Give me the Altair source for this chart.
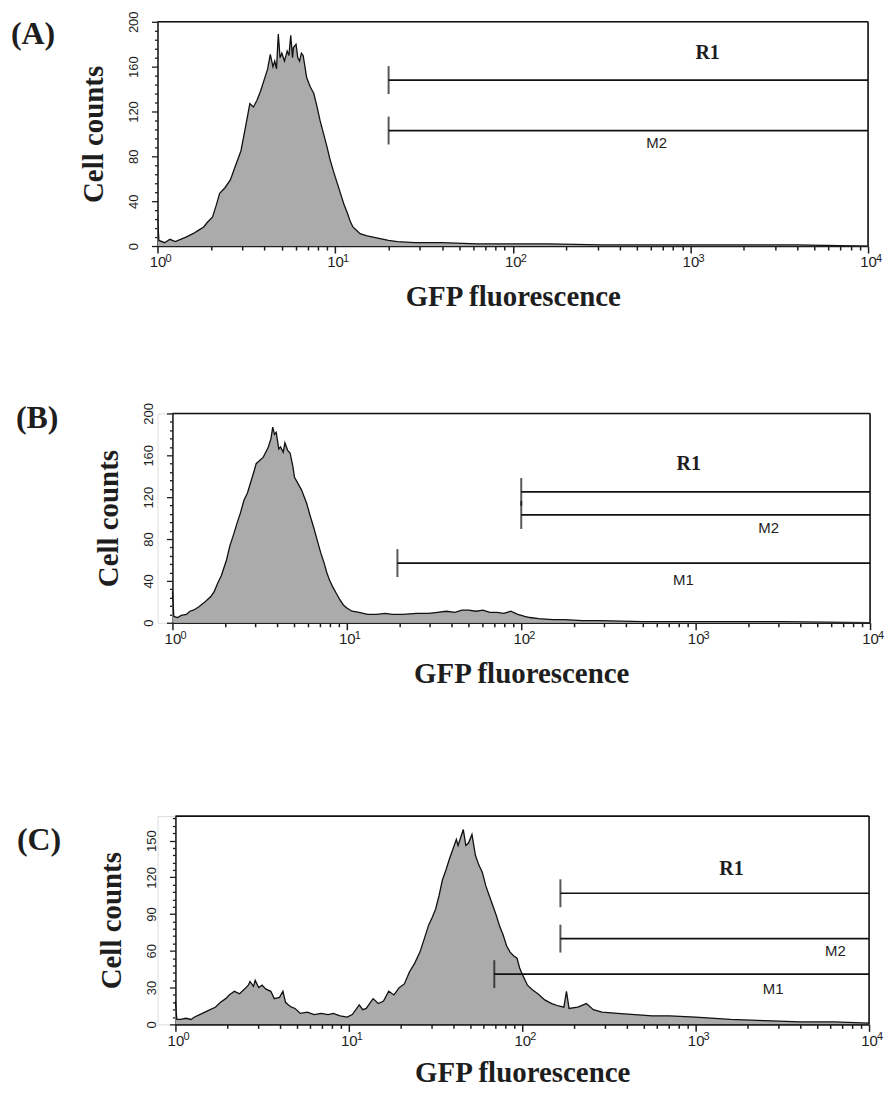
import altair as alt
import pandas as pd

# ---------------- data ----------------
# x positions are given as log10(GFP fluorescence), counts are cell counts
a_log = [0.0, 0.008, 0.04, 0.07, 0.10, 0.13, 0.16, 0.20, 0.23, 0.26, 0.28, 0.31, 0.33, 0.35, 0.38,
         0.41, 0.44, 0.47, 0.50, 0.52, 0.54, 0.56, 0.58, 0.60, 0.62, 0.635, 0.65, 0.66, 0.67, 0.68,
         0.69, 0.70, 0.715, 0.73, 0.74, 0.75, 0.76, 0.765, 0.78, 0.79, 0.80, 0.81, 0.82, 0.83, 0.84,
         0.86, 0.88, 0.90, 0.915, 0.935, 0.955, 0.97, 0.99, 1.01, 1.03, 1.05, 1.07, 1.085, 1.10, 1.12,
         1.14, 1.18, 1.24, 1.30, 1.35, 1.45, 1.6, 1.8, 2.0, 2.2, 2.5, 2.8, 3.2, 3.6, 4.0]
a_cnt = [26, 5, 3, 6, 4, 6, 8, 11, 14, 17, 21, 26, 36, 47, 52,
         59, 72, 85, 110, 127, 124, 130, 138, 148, 158, 171, 160, 165, 158, 189,
         168, 172, 165, 174, 170, 188, 168, 177, 180, 168, 165, 172, 170, 160, 150,
         142, 136, 123, 112, 100, 88, 78, 67, 57, 47, 37, 29, 22, 17, 14,
         11, 9, 7, 5, 4, 3, 3, 2, 2, 2, 1, 1, 1, 1, 0]

b_log = [0.0, 0.008, 0.03, 0.05, 0.08, 0.10, 0.12, 0.15, 0.18, 0.20, 0.22, 0.24, 0.26, 0.28, 0.29,
         0.31, 0.33, 0.35, 0.37, 0.39, 0.41, 0.43, 0.45, 0.47, 0.48, 0.50, 0.52, 0.535, 0.55, 0.565,
         0.575, 0.585, 0.595, 0.61, 0.62, 0.635, 0.645, 0.66, 0.675, 0.69, 0.70, 0.72, 0.74, 0.77, 0.79,
         0.81, 0.83, 0.85, 0.87, 0.885, 0.90, 0.92, 0.94, 0.96, 0.98, 1.0, 1.03, 1.07, 1.12, 1.17,
         1.22, 1.26, 1.32, 1.40, 1.47, 1.52, 1.57, 1.62, 1.66, 1.70, 1.74, 1.78, 1.82, 1.86, 1.90,
         1.94, 1.98, 2.02, 2.05, 2.10, 2.18, 2.25, 2.35, 2.45, 2.7, 3.0, 3.5, 4.0]
b_cnt = [30, 6, 5, 7, 8, 11, 12, 15, 19, 22, 25, 30, 38, 45, 50,
         60, 74, 84, 95, 105, 117, 124, 135, 146, 152, 155, 158, 163, 168, 176,
         187, 180, 182, 166, 168, 163, 172, 165, 162, 150, 139, 133, 127, 114, 102,
         91, 79, 67, 57, 48, 41, 34, 28, 22, 17, 14, 11, 10, 8, 8,
         9, 8, 8, 9, 9, 10, 11, 10, 12, 12, 11, 12, 10, 10, 9,
         11, 8, 6, 5, 4, 3, 3, 2, 2, 1, 1, 1, 0]

c_log = [0.0, 0.008, 0.03, 0.06, 0.09, 0.11, 0.14, 0.17, 0.20, 0.23, 0.26, 0.29, 0.31, 0.34, 0.37,
         0.40, 0.42, 0.43, 0.45, 0.46, 0.48, 0.50, 0.52, 0.55, 0.57, 0.60, 0.62, 0.635, 0.65, 0.67,
         0.69, 0.72, 0.76, 0.80, 0.84, 0.88, 0.91, 0.95, 0.99, 1.02, 1.06, 1.08, 1.10, 1.14, 1.17,
         1.20, 1.23, 1.26, 1.29, 1.32, 1.35, 1.38, 1.41, 1.44, 1.46, 1.48, 1.50, 1.52, 1.54, 1.56,
         1.58, 1.60, 1.62, 1.63, 1.66, 1.675, 1.69, 1.71, 1.73, 1.75, 1.77, 1.79, 1.81, 1.83, 1.85,
         1.87, 1.89, 1.91, 1.93, 1.95, 1.97, 1.985, 2.0, 2.03, 2.06, 2.09, 2.13, 2.17, 2.21, 2.24,
         2.255, 2.27, 2.32, 2.37, 2.41, 2.46, 2.55, 2.65, 2.75, 2.85, 3.0, 3.2, 3.4, 3.6, 3.8, 4.0]
c_cnt = [19, 4, 4, 5, 4, 6, 8, 10, 12, 14, 18, 21, 24, 27, 25,
         29, 32, 35, 31, 36, 30, 32, 29, 27, 21, 22, 27, 18, 16, 14,
         13, 9, 10, 8, 9, 8, 9, 7, 6, 8, 16, 12, 13, 21, 17,
         19, 27, 24, 30, 33, 43, 50, 59, 72, 81, 87, 94, 105, 118, 126,
         135, 143, 151, 146, 159, 146, 148, 155, 138, 130, 124, 113, 105, 97, 89,
         80, 73, 64, 59, 56, 54, 46, 41, 32, 28, 25, 20, 17, 15, 14,
         27, 13, 14, 17, 12, 10, 9, 8, 7, 7, 6, 4, 3, 2, 2, 1]

# marker gates: name, start (fluorescence), level (cell counts)
a_gate_name = ["R1", "M2"]
a_gate_start = [20, 20]
a_gate_level = [148, 103]
b_gate_name = ["R1", "M2", "M1"]
b_gate_start = [100, 100, 19.5]
b_gate_level = [125, 103, 57]
c_gate_name = ["R1", "M2", "M1"]
c_gate_start = [166, 166, 69]
c_gate_level = [107, 70, 41]

# gate labels: text, x (fluorescence), y (cell counts)
a_lab_text = ["R1", "M2"]
a_lab_x = [1250, 645]
a_lab_y = [172, 92]
b_lab_text = ["R1", "M2", "M1"]
b_lab_x = [912, 2620, 850]
b_lab_y = [152, 91, 41]
c_lab_text = ["R1", "M2", "M1"]
c_lab_x = [1610, 6400, 2800]
c_lab_y = [127, 60, 29]

# x axis: decades and their exponents
decades = [1, 10, 100, 1000, 10000]
exponents = ["0", "1", "2", "3", "4"]
x_tick_values = [m * 10 ** d for d in range(4) for m in range(1, 10)] + [10000]

SERIF = "Liberation Serif"
SANS = "Liberation Sans"
INK = "#1e1e1e"


def xenc(field, dx, w, tpad):
    return alt.X(
        f"{field}:Q",
        scale=alt.Scale(type="log", domain=[1, 10000], nice=False, range=[dx, dx + w]),
        axis=alt.Axis(
            title="GFP fluorescence",
            values=x_tick_values,
            labelExpr="indexof([1,10,100,1000,10000], datum.value) >= 0 ? '10' : ''",
            labelOverlap=False, labelFlush=False,
            labelFont=SANS, labelFontSize=15, labelColor=INK, labelPadding=2,
            tickSize={"condition": {"test": "indexof([1,10,100,1000,10000], datum.value) >= 0",
                                    "value": 7}, "value": 4},
            tickColor=INK, tickWidth=1.5, domainColor=INK, domainWidth=1.6,
            grid=False,
            titleFont=SERIF, titleFontSize=29, titleFontWeight="bold", titleColor=INK,
            titlePadding=tpad,
        ),
    )


def yenc(field, ymax, step, major, dx):
    return alt.Y(
        f"{field}:Q",
        scale=alt.Scale(domain=[0, ymax], nice=False, zero=True),
        axis=alt.Axis(
            title="Cell counts",
            values=list(range(0, ymax + 1, step)),
            labelExpr=f"datum.value % {major} == 0 ? datum.value : ''",
            labelOverlap=False,
            labelAngle=270, labelAlign="center", labelBaseline="bottom",
            labelFont=SANS, labelFontSize=13, labelColor=INK, labelPadding=11,
            tickSize={"condition": {"test": f"datum.value % {major} == 0", "value": 6}, "value": 3},
            tickColor=INK, tickWidth=1.3, domainColor=INK, domainWidth=1.6,
            grid=False, offset=-dx,
            titleFont=SERIF, titleFontSize=29, titleFontWeight="bold", titleColor=INK,
            titlePadding=19,
        ),
    )


def panel(logs, cnts, gname, gstart, glevel, ltext, lx, ly, ymax, step, major,
          dx, w, h, plabel, plabel_x, plabel_y, anchor_y, tpad):
    hist = pd.DataFrame({"fl": [10 ** v for v in logs], "count": cnts})
    gates = pd.DataFrame({"name": gname, "start": gstart, "level": glevel,
                          "end": [10000] * len(gname)})
    labs = pd.DataFrame({"text": ltext, "lx": lx, "ly": ly,
                         "bold": [t.startswith("R") for t in ltext]})
    sup = pd.DataFrame({"dec": decades, "e": exponents})
    X = lambda f: xenc(f, dx, w, tpad)
    Y = lambda f: yenc(f, ymax, step, major, dx)
    one = pd.DataFrame({"t": [0]})

    area = alt.Chart(hist).mark_area(color="#ababab", clip=True).encode(x=X("fl"), y=Y("count"))
    line = alt.Chart(hist).mark_line(color="#111111", strokeWidth=1.3, clip=True).encode(
        x=X("fl"), y=Y("count"))
    hline = alt.Chart(gates).mark_rule(color="#111111", strokeWidth=1.7).encode(
        x=X("start"), x2="end", y=Y("level"))
    vtick = alt.Chart(gates).mark_tick(color="#111111", orient="vertical", size=28,
                                       thickness=2).encode(x=X("start"), y=Y("level"))
    rtext = alt.Chart(labs[labs["bold"]]).mark_text(
        font=SERIF, fontWeight="bold", fontSize=20, color=INK).encode(
        x=X("lx"), y=Y("ly"), text="text:N")
    mtext = alt.Chart(labs[~labs["bold"]]).mark_text(
        font=SANS, fontSize=15, color=INK).encode(
        x=X("lx"), y=Y("ly"), text="text:N")
    suptext = alt.Chart(sup).mark_text(
        font=SANS, fontSize=11, color=INK, align="left", baseline="alphabetic", dx=8).encode(
        x=X("dec"), y=alt.value(h + 16), text="e:N")
    ptext = alt.Chart(pd.DataFrame({"t": [plabel]})).mark_text(
        font=SERIF, fontWeight="bold", fontSize=32, color=INK, align="left",
        baseline="alphabetic").encode(
        x=alt.value(plabel_x), y=alt.value(plabel_y), text="t:N")
    # plot frame (top and right edges)
    ftop = alt.Chart(one).mark_rule(color="#111111", strokeWidth=1.6).encode(
        x=alt.value(dx), x2=alt.value(dx + w), y=alt.value(0))
    fright = alt.Chart(one).mark_rule(color="#111111", strokeWidth=1.6).encode(
        x=alt.value(dx + w), y=alt.value(0), y2=alt.value(h))
    anchor = alt.Chart(one).mark_rule(strokeOpacity=0).encode(
        x=alt.value(dx + 10), y=alt.value(anchor_y), y2=alt.value(anchor_y + 1))
    return alt.layer(area, line, hline, vtick, rtext, mtext, suptext, ptext, ftop, fright,
                     anchor).properties(width=dx + w, height=h)


pa = panel(a_log, a_cnt, a_gate_name, a_gate_start, a_gate_level, a_lab_text, a_lab_x, a_lab_y,
           200, 8, 40, 0, 713, 225, "(A)", -147, 22, 5, 13)
pb = panel(b_log, b_cnt, b_gate_name, b_gate_start, b_gate_level, b_lab_text, b_lab_x, b_lab_y,
           200, 8, 40, 15, 700, 210, "(B)", -142, 15, -18, 13)
pc = panel(c_log, c_cnt, c_gate_name, c_gate_start, c_gate_level, c_lab_text, c_lab_x, c_lab_y,
           170, 6, 30, 18, 696, 209, "(C)", -141, 34, -44, 10)

chart = alt.vconcat(pa, pb, pc, spacing=82).properties(
    padding={"left": 2, "top": 0, "right": 0, "bottom": 0}
).configure_view(stroke=None).configure(background="white")

chart.save("out.html", embed_options={"renderer": "svg", "actions": False})
